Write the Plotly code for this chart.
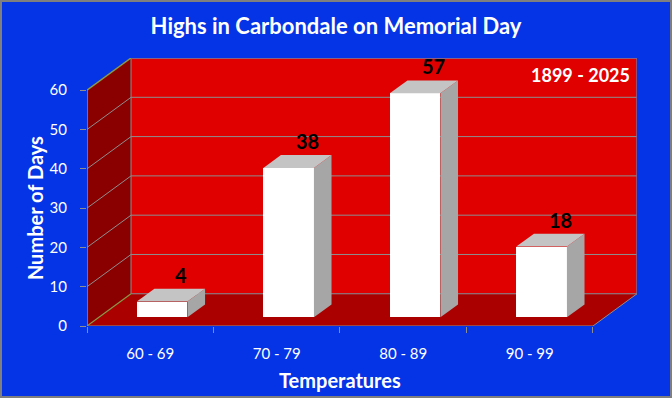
import plotly.graph_objects as go

# ---------------- data ----------------
categories = ["60 - 69", "70 - 79", "80 - 89", "90 - 99"]
days = [4, 38, 57, 18]
y_ticks = [0, 10, 20, 30, 40, 50, 60]
title_text = "Highs in Carbondale on Memorial Day"
period_text = "1899 - 2025"
x_title = "Temperatures"
y_title = "Number of Days"

# ---------------- styling / geometry ----------------
W_IMG, H_IMG = 672, 398
ML, MR, MT, MB = 87, 35, 58, 72
PW = W_IMG - ML - MR          # plot width px
PH = H_IMG - MT - MB          # plot height px
D = 0.348                     # depth offset in x units
DY = 8.2                      # depth offset in y units
YMAX = 60
F0, F1 = 0.27, 0.67           # bar depth (front / back) fractions
BAR_W = 0.4

BLUE = "#0533e6"
RED_BACK = "#e00000"
RED_SIDE = "#8a0000"
RED_FLOOR = "#ab0000"
GRID = "#8e8e8e"
OLIVE = "#8a9a46"
FONT = "Lato"

n = len(categories)
XMAX = n + D
YTOP = YMAX + DY


def P(x, y, f):
    return (x + f * D, y + f * DY)


def path(points):
    s = "M " + " L ".join(f"{x},{y}" for x, y in points) + " Z"
    return s


def line_shape(p, q, color, width=1):
    return dict(type="line", xref="x", yref="y", x0=p[0], y0=p[1], x1=q[0], y1=q[1],
                line=dict(color=color, width=width), layer="below")


shapes = []
# back wall
shapes.append(dict(type="path", xref="x", yref="y", layer="below",
                   path=path([P(0, 0, 1), P(n, 0, 1), P(n, YMAX, 1), P(0, YMAX, 1)]),
                   fillcolor=RED_BACK, line=dict(width=0)))
# left side wall
shapes.append(dict(type="path", xref="x", yref="y", layer="below",
                   path=path([(0, 0), P(0, 0, 1), P(0, YMAX, 1), (0, YMAX)]),
                   fillcolor=RED_SIDE, line=dict(width=0)))
# floor
shapes.append(dict(type="path", xref="x", yref="y", layer="below",
                   path=path([(0, 0), (n, 0), P(n, 0, 1), P(0, 0, 1)]),
                   fillcolor=RED_FLOOR, line=dict(width=0)))
# gridlines on back wall and side wall
for v in y_ticks:
    shapes.append(line_shape(P(0, v, 1), P(n, v, 1), GRID))
    if 0 < v < YMAX:
        shapes.append(line_shape((0, v), P(0, v, 1), GRID))
# back wall borders
shapes.append(line_shape(P(0, 0, 1), P(0, YMAX, 1), GRID))
shapes.append(line_shape(P(n, 0, 1), P(n, YMAX, 1), "#7a6a9a", 1.5))
shapes.append(line_shape(P(0, YMAX, 1), P(n, YMAX, 1), "#7a6a9a", 1.5))
# floor edges
shapes.append(line_shape((0, 0), (n, 0), GRID))
shapes.append(line_shape((n, 0), P(n, 0, 1), GRID))
# olive axis edges
shapes.append(line_shape((0, 0), (0, YMAX), OLIVE, 1.5))
shapes.append(line_shape((0, YMAX), P(0, YMAX, 1), OLIVE, 1.5))
shapes.append(line_shape((0, 0), P(0, 0, 1), OLIVE, 1.2))
# outer image border
shapes.append(dict(type="rect", xref="paper", yref="paper",
                   x0=(1 - ML) / PW, x1=(W_IMG - 1 - ML) / PW,
                   y0=(MT + PH - (H_IMG - 1)) / PH, y1=(MT + PH - 1) / PH,
                   line=dict(color="#7f7f7f", width=2), layer="above"))

fig = go.Figure()

# front faces of bars
fig.add_trace(go.Bar(
    x=[i + 0.5 + F0 * D for i in range(n)], y=days, base=F0 * DY, width=BAR_W,
    marker=dict(color="white", line=dict(width=0)), hoverinfo="skip", showlegend=False))

# side and top faces
for i, v in enumerate(days):
    x0 = i + 0.5 - BAR_W / 2
    x1 = i + 0.5 + BAR_W / 2
    side = [P(x1, 0, F0), P(x1, 0, F1), P(x1, v, F1), P(x1, v, F0), P(x1, 0, F0)]
    top = [P(x0, v, F0), P(x1, v, F0), P(x1, v, F1), P(x0, v, F1), P(x0, v, F0)]
    for pts, col in ((side, "#a6a6a6"), (top, "#c4c4c4")):
        fig.add_trace(go.Scatter(
            x=[p[0] for p in pts], y=[p[1] for p in pts], mode="lines",
            fill="toself", fillcolor=col, line=dict(width=0, color=col),
            hoverinfo="skip", showlegend=False))

annotations = []
for i, v in enumerate(days):
    annotations.append(dict(x=i + 0.74, y=v + F1 * DY, xref="x", yref="y", text=str(v),
                            showarrow=False, yshift=14,
                            font=dict(family=FONT, size=20, color="black", weight="bold")))
annotations.append(dict(x=(PW - 5) / PW, y=(MT + PH - 75) / PH, xref="paper", yref="paper",
                        text=period_text, showarrow=False, xanchor="right", yanchor="middle",
                        font=dict(family=FONT, size=18, color="white", weight="bold")))
annotations.append(dict(x=n / 2, xref="x", y=(MT + PH - 380) / PH, yref="paper",
                        text=x_title, showarrow=False, yanchor="middle",
                        font=dict(family=FONT, size=20, color="white", weight="bold")))
annotations.append(dict(x=(35 - ML) / PW, xref="paper", y=YMAX / 2, yref="y",
                        text=y_title, showarrow=False, textangle=-90, xanchor="center",
                        font=dict(family=FONT, size=20, color="white", weight="bold")))

fig.update_layout(
    width=W_IMG, height=H_IMG,
    margin=dict(l=ML, r=MR, t=MT, b=MB, autoexpand=False),
    paper_bgcolor=BLUE, plot_bgcolor=BLUE,
    title=dict(text=title_text, x=0.5, xref="container", y=1 - 26 / H_IMG, yref="container",
               xanchor="center", yanchor="middle",
               font=dict(family=FONT, size=22, color="white", weight="bold")),
    xaxis=dict(range=[0, XMAX], tickvals=[i + 0.5 for i in range(n)], ticktext=categories,
               ticks="", showgrid=False, zeroline=False, showline=False, fixedrange=True,
               tickfont=dict(family=FONT, size=15, color="white"), ticklabelstandoff=17,
               minor=dict(tickmode="linear", tick0=0, dtick=1, ticks="outside", ticklen=6,
                          tickcolor=GRID, showgrid=False)),
    yaxis=dict(range=[0, YTOP], tickvals=y_ticks, ticks="outside", ticklen=6, tickcolor=GRID,
               showgrid=False, zeroline=False, showline=False, fixedrange=True,
               tickfont=dict(family=FONT, size=15, color="white"), ticklabelstandoff=10),
    shapes=shapes, annotations=annotations, bargap=0,
)

fig.write_html("out.html", config={"displayModeBar": False},
               post_script="document.body.style.margin='0';")
